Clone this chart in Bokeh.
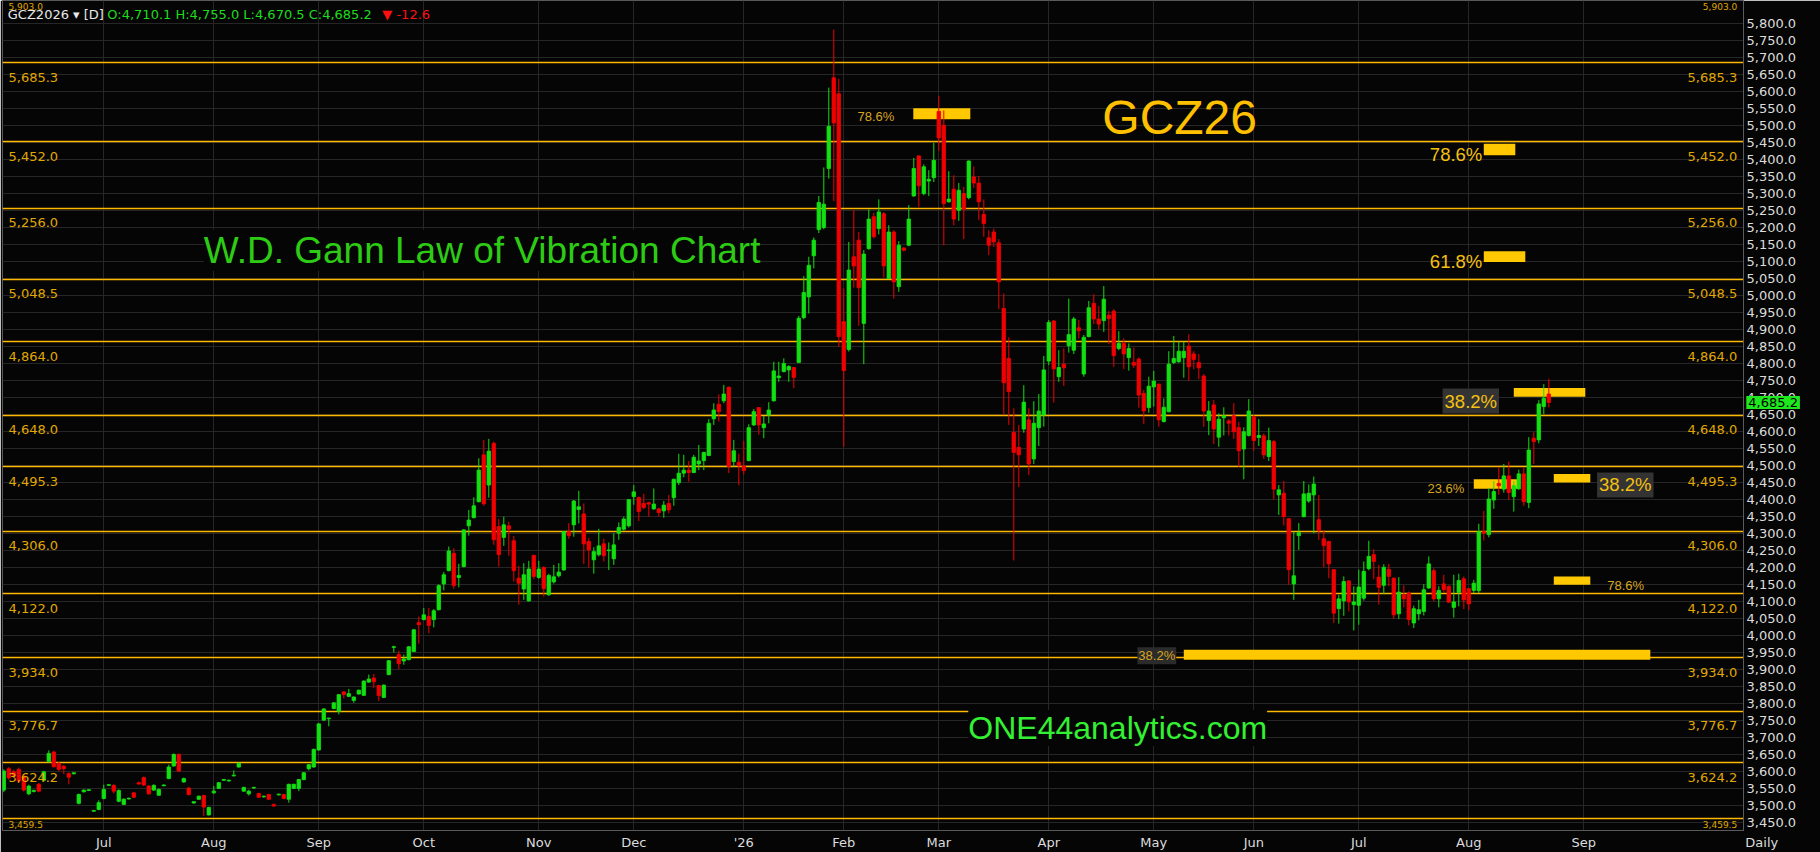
from bokeh.plotting import figure
from bokeh.models import Range1d, FixedTicker, NumeralTickFormatter, Label
from bokeh.embed import file_html
from bokeh.resources import INLINE
from bokeh.core.properties import value

# ---------------- data (daily bars, index = trading day) ----------------
opens = [
    3544, 3607, 3598, 3605, 3585, 3533, 3540, 3561, 3573, 3628,
    3656, 3623, 3614, 3593, 3592, 3505, 3539, 3543, 3482, 3487,
    3519, 3558, 3558, 3511, 3502, 3518, 3536, 3566, 3581, 3556,
    3544, 3529, 3557, 3578, 3615, 3649, 3568, 3550, 3506, 3517,
    3528, 3471, 3536, 3549, 3573, 3571, 3586, 3612, 3541, 3533,
    3550, 3534, 3524, 3531, 3502, 3530, 3531, 3517, 3549, 3549,
    3575, 3607, 3612, 3662, 3750, 3754, 3784, 3776, 3833, 3820,
    3808, 3827, 3823, 3862, 3874, 3852, 3817, 3884, 3964, 3943,
    3924, 3928, 3952, 4037, 4046, 4055, 4046, 4075, 4151, 4190,
    4241, 4170, 4202, 4322, 4346, 4393, 4531, 4442, 4565, 4320,
    4288, 4322, 4278, 4168, 4136, 4101, 4235, 4170, 4199, 4119,
    4157, 4175, 4192, 4305, 4325, 4370, 4357, 4276, 4222, 4237,
    4269, 4249, 4225, 4300, 4312, 4322, 4408, 4405, 4388, 4390,
    4372, 4372, 4366, 4388, 4405, 4449, 4477, 4486, 4479, 4504,
    4514, 4529, 4637, 4680, 4690, 4730, 4511, 4509, 4498, 4514,
    4619, 4670, 4611, 4648, 4690, 4758, 4776, 4781, 4788, 4803,
    4935, 4996, 5117, 5194, 5200, 5374, 5641, 5594, 4923, 4841,
    5114, 5163, 4918, 5138, 5232, 5197, 5241, 5050, 5187, 5026,
    5140, 5148, 5293, 5411, 5300, 5337, 5347, 5542, 5501, 5276,
    5313, 5251, 5300, 5288, 5349, 5331, 5239, 5170, 5187, 5155,
    4962, 4815, 4597, 4553, 4607, 4634, 4519, 4611, 4648, 4807,
    4925, 4761, 4798, 4852, 4839, 4905, 4769, 4879, 4977, 4931,
    4926, 4942, 4954, 4844, 4859, 4817, 4803, 4813, 4712, 4670,
    4731, 4739, 4629, 4658, 4803, 4805, 4817, 4851, 4828, 4803,
    4763, 4632, 4678, 4583, 4640, 4631, 4646, 4611, 4548, 4588,
    4643, 4582, 4587, 4526, 4570, 4413, 4418, 4343, 4151, 4293,
    4349, 4395, 4413, 4340, 4284, 4276, 4193, 4078, 4101, 4160,
    4090, 4088, 4109, 4196, 4237, 4171, 4147, 4194, 4168, 4063,
    4119, 4124, 4036, 4063, 4070, 4139, 4190, 4107, 4151, 4144,
    4082, 4126, 4166, 4137, 4132, 4131, 4305, 4296, 4398, 4447,
    4430, 4469, 4408, 4431, 4475, 4391, 4580, 4575, 4673, 4710.1,
]
highs = [
    3605, 3612, 3604, 3610, 3590, 3560, 3546, 3565, 3601, 3661,
    3660, 3627, 3618, 3596, 3597, 3534, 3546, 3547, 3486, 3514,
    3560, 3562, 3561, 3546, 3520, 3522, 3539, 3569, 3584, 3559,
    3561, 3549, 3561, 3619, 3652, 3652, 3581, 3553, 3512, 3528,
    3531, 3495, 3556, 3568, 3577, 3575, 3602, 3625, 3554, 3545,
    3554, 3536, 3528, 3533, 3504, 3534, 3533, 3563, 3563, 3577,
    3597, 3621, 3666, 3741, 3785, 3757, 3803, 3827, 3836, 3842,
    3820, 3840, 3867, 3884, 3886, 3854, 3855, 3927, 3969, 3954,
    3943, 3968, 4018, 4055, 4080, 4080, 4077, 4150, 4186, 4261,
    4256, 4210, 4312, 4369, 4406, 4521, 4575, 4578, 4570, 4342,
    4349, 4334, 4292, 4204, 4212, 4219, 4237, 4219, 4203, 4181,
    4207, 4212, 4307, 4330, 4398, 4425, 4388, 4286, 4259, 4313,
    4284, 4273, 4300, 4332, 4349, 4401, 4442, 4408, 4416, 4393,
    4432, 4375, 4395, 4413, 4461, 4534, 4531, 4513, 4531, 4560,
    4540, 4636, 4683, 4709, 4737, 4732, 4575, 4534, 4572, 4621,
    4666, 4672, 4646, 4686, 4805, 4805, 4815, 4795, 4790, 4940,
    5057, 5114, 5171, 5293, 5377, 5612, 5783, 5638, 5021, 5158,
    5251, 5187, 5134, 5254, 5244, 5283, 5246, 5207, 5192, 5160,
    5142, 5266, 5405, 5413, 5386, 5369, 5449, 5587, 5545, 5366,
    5354, 5331, 5320, 5398, 5380, 5352, 5283, 5192, 5197, 5166,
    5006, 4877, 4668, 4619, 4736, 4668, 4689, 4710, 4822, 4928,
    4928, 4839, 4844, 4991, 4937, 4928, 4884, 4984, 5004, 4969,
    5028, 4954, 4960, 4895, 4874, 4859, 4847, 4818, 4722, 4761,
    4778, 4741, 4697, 4836, 4881, 4864, 4864, 4886, 4836, 4828,
    4769, 4689, 4692, 4653, 4671, 4636, 4683, 4627, 4612, 4695,
    4648, 4636, 4594, 4611, 4575, 4442, 4454, 4345, 4305, 4330,
    4454, 4444, 4467, 4413, 4310, 4278, 4195, 4119, 4173, 4162,
    4144, 4193, 4217, 4278, 4253, 4207, 4209, 4210, 4170, 4171,
    4147, 4129, 4087, 4104, 4150, 4232, 4197, 4144, 4178, 4147,
    4178, 4181, 4173, 4139, 4163, 4328, 4366, 4433, 4454, 4494,
    4504, 4511, 4454, 4487, 4494, 4583, 4599, 4692, 4739, 4755.0,
]
lows = [
    3538, 3575, 3580, 3565, 3540, 3529, 3537, 3538, 3570, 3625,
    3610, 3600, 3591, 3561, 3590, 3502, 3537, 3541, 3480, 3485,
    3517, 3556, 3534, 3508, 3500, 3516, 3521, 3560, 3556, 3530,
    3542, 3527, 3555, 3576, 3613, 3597, 3566, 3528, 3504, 3515,
    3468, 3469, 3533, 3547, 3571, 3569, 3584, 3610, 3539, 3528,
    3548, 3521, 3522, 3515, 3495, 3528, 3517, 3507, 3547, 3541,
    3573, 3602, 3610, 3660, 3748, 3732, 3782, 3767, 3814, 3818,
    3801, 3825, 3821, 3860, 3845, 3806, 3815, 3882, 3949, 3900,
    3913, 3926, 3950, 3975, 4044, 4006, 4023, 4073, 4132, 4188,
    4137, 4141, 4200, 4293, 4344, 4391, 4381, 4405, 4266, 4202,
    4263, 4234, 4158, 4090, 4104, 4099, 4165, 4166, 4114, 4116,
    4152, 4170, 4190, 4284, 4290, 4329, 4210, 4199, 4181, 4232,
    4217, 4192, 4207, 4281, 4308, 4317, 4384, 4336, 4371, 4349,
    4369, 4349, 4346, 4359, 4381, 4442, 4465, 4452, 4477, 4486,
    4486, 4527, 4619, 4629, 4683, 4477, 4496, 4441, 4474, 4512,
    4616, 4590, 4580, 4624, 4688, 4746, 4774, 4746, 4727, 4801,
    4930, 4947, 5080, 5184, 5195, 5344, 5278, 4849, 4555, 4835,
    5023, 4911, 4798, 5135, 5168, 5180, 5053, 5048, 4991, 5011,
    5130, 5145, 5291, 5261, 5295, 5293, 5334, 5426, 5148, 5273,
    5207, 5220, 5166, 5283, 5317, 5222, 5173, 5119, 5143, 4960,
    4648, 4619, 4220, 4436, 4596, 4472, 4504, 4557, 4614, 4795,
    4685, 4746, 4734, 4832, 4828, 4874, 4761, 4877, 4916, 4900,
    4893, 4857, 4790, 4839, 4784, 4779, 4787, 4670, 4622, 4655,
    4673, 4614, 4626, 4656, 4798, 4802, 4758, 4748, 4783, 4754,
    4614, 4589, 4563, 4555, 4588, 4588, 4578, 4496, 4459, 4585,
    4543, 4557, 4519, 4513, 4400, 4354, 4323, 4149, 4104, 4251,
    4347, 4390, 4300, 4281, 4200, 4168, 4036, 4034, 4057, 4070,
    4014, 4031, 4102, 4191, 4165, 4090, 4121, 4144, 4048, 4048,
    4082, 4029, 4021, 4044, 4058, 4136, 4100, 4082, 4126, 4095,
    4052, 4085, 4077, 4073, 4124, 4124, 4279, 4288, 4372, 4413,
    4420, 4398, 4364, 4428, 4381, 4374, 4504, 4565, 4651, 4670.5,
]
closes = [
    3600, 3580, 3588, 3571, 3544, 3556, 3543, 3541, 3598, 3652,
    3613, 3605, 3607, 3582, 3595, 3531, 3544, 3545, 3484, 3507,
    3546, 3560, 3541, 3543, 3517, 3520, 3523, 3562, 3559, 3533,
    3558, 3546, 3559, 3612, 3649, 3600, 3578, 3531, 3510, 3526,
    3494, 3493, 3541, 3566, 3575, 3573, 3588, 3623, 3552, 3541,
    3552, 3523, 3526, 3517, 3497, 3532, 3519, 3561, 3561, 3575,
    3595, 3619, 3664, 3739, 3783, 3756, 3801, 3825, 3825, 3828,
    3818, 3838, 3865, 3871, 3863, 3822, 3853, 3925, 3966, 3916,
    3930, 3966, 4016, 4031, 4060, 4029, 4072, 4146, 4178, 4248,
    4146, 4176, 4310, 4339, 4381, 4486, 4387, 4542, 4281, 4237,
    4325, 4312, 4190, 4153, 4178, 4195, 4173, 4195, 4137, 4176,
    4172, 4186, 4305, 4293, 4395, 4378, 4269, 4251, 4246, 4263,
    4234, 4251, 4266, 4317, 4342, 4399, 4422, 4364, 4376, 4386,
    4386, 4361, 4383, 4369, 4459, 4477, 4486, 4479, 4524, 4513,
    4538, 4624, 4663, 4658, 4710, 4497, 4543, 4499, 4485, 4611,
    4658, 4619, 4622, 4663, 4778, 4763, 4800, 4791, 4759, 4933,
    5009, 5089, 5163, 5274, 5269, 5498, 5508, 4879, 4779, 5075,
    5087, 5023, 5122, 5225, 5173, 5246, 5087, 5187, 5040, 5148,
    5133, 5225, 5374, 5323, 5379, 5342, 5398, 5464, 5271, 5284,
    5225, 5310, 5254, 5396, 5331, 5276, 5212, 5148, 5158, 5040,
    4743, 4717, 4538, 4531, 4686, 4504, 4624, 4660, 4781, 4921,
    4784, 4788, 4787, 4885, 4931, 4896, 4877, 4964, 4931, 4916,
    4989, 4932, 4823, 4859, 4828, 4844, 4795, 4707, 4660, 4733,
    4748, 4634, 4671, 4798, 4815, 4836, 4836, 4790, 4812, 4787,
    4660, 4660, 4607, 4636, 4646, 4624, 4599, 4543, 4599, 4660,
    4573, 4588, 4531, 4573, 4430, 4428, 4349, 4193, 4175, 4302,
    4416, 4418, 4445, 4308, 4264, 4210, 4065, 4107, 4158, 4098,
    4098, 4142, 4188, 4232, 4217, 4141, 4200, 4173, 4060, 4127,
    4107, 4046, 4078, 4075, 4134, 4210, 4107, 4132, 4134, 4097,
    4098, 4161, 4104, 4092, 4153, 4305, 4300, 4401, 4423, 4440,
    4469, 4420, 4440, 4475, 4393, 4545, 4570, 4681, 4697.8, 4685.2,
]

# Gann "law of vibration" levels
levels = [5903.0, 5685.3, 5452.0, 5256.0, 5048.5, 4864.0, 4648.0, 4495.3,
          4306.0, 4122.0, 3934.0, 3776.7, 3624.2, 3459.5]

# month starts (trading-day index) and their tick labels
month_pos = [20, 42, 63, 84, 107, 126, 148, 168, 187, 209, 230, 250, 271, 293, 316]
month_labels = ["Jul", "Aug", "Sep", "Oct", "Nov", "Dec", "'26", "Feb", "Mar",
                "Apr", "May", "Jun", "Jul", "Aug", "Sep"]

price_ticks = list(range(3450, 5801, 50))

# Fibonacci zones: start/end bar index, bottom/top price
fib_left = [181.9, 296.0, 296.0, 302.0, 294.0, 310.0, 310.0, 236.0]
fib_right = [193.3, 302.3, 304.3, 316.3, 303.0, 317.3, 317.3, 329.3]
fib_bottom = [5518.6, 5412.7, 5099.0, 4702.0, 4431.0, 4449.7, 4148.4, 3928.0]
fib_top = [5551.0, 5447.1, 5130.4, 4727.6, 4459.2, 4474.8, 4172.8, 3957.3]

last_open, last_high, last_low, last_close, last_change = 4710.1, 4755.0, 4670.5, 4685.2, -12.6

# ---------------- figure ----------------
n = min(len(opens), len(highs), len(lows), len(closes))
idx = list(range(n))
GREEN = "#12e012"
RED = "#f00000"
colors = [GREEN if closes[i] >= opens[i] else RED for i in idx]
body_top = [max(opens[i], closes[i]) for i in idx]
body_bot = [min(opens[i], closes[i]) for i in idx]

p = figure(width=1820, height=852,
           x_range=Range1d(-0.26, 347.94), y_range=Range1d(3425.1, 5868.5),
           y_axis_location="right", output_backend="svg", toolbar_location=None,
           background_fill_color="#050505", border_fill_color="#050505",
           min_border_left=2, min_border_top=0, min_border_right=77, min_border_bottom=21,
           outline_line_color="#5a5a5a")

p.yaxis.ticker = FixedTicker(ticks=price_ticks)
p.yaxis.formatter = NumeralTickFormatter(format="0,0.0")
p.xaxis.ticker = FixedTicker(ticks=month_pos)
p.xaxis.major_label_overrides = {pos: lab for pos, lab in zip(month_pos, month_labels)}
for ax in (p.xaxis[0], p.yaxis[0]):
    ax.axis_line_color = "#5a5a5a"
    ax.major_tick_line_color = None
    ax.minor_tick_line_color = None
    ax.major_tick_out = 0
    ax.major_tick_in = 0
    ax.minor_tick_out = 0
    ax.minor_tick_in = 0
    ax.major_label_text_color = "#dcdcdc"
    ax.major_label_text_font = "DejaVu Sans"
    ax.major_label_text_font_size = "13px"
p.yaxis.major_label_standoff = 3
p.xaxis.major_label_standoff = 4
p.grid.grid_line_color = "#262626"
p.grid.grid_line_width = 1

# Gann levels
p.hspan(y=levels, line_color="#ffb800", line_width=1.3)

# Fibonacci zones
p.quad(left=fib_left, right=fib_right, bottom=fib_bottom, top=fib_top,
       fill_color="#ffc800", line_color=None)

# candles
p.segment(x0=idx, y0=highs[:n], x1=idx, y1=lows[:n], line_color=colors, line_width=1)
p.vbar(x=idx, width=0.7, top=body_top, bottom=body_bot,
       fill_color=colors, line_color=colors, line_width=0.8)

# level labels (below each line, left and right); labels of levels that sit at
# the very edge of the price window are kept inside it in a smaller size
px_per_unit = 0.3401
off = 14.4 / px_per_unit
lab_hi, lab_lo = 5850.8, 3442.7
lab_y = [lv - off for lv in levels]
inner = [i for i, y in enumerate(lab_y) if lab_lo <= y <= lab_hi]
edge = [i for i, y in enumerate(lab_y) if not (lab_lo <= y <= lab_hi)]
for ids, size in ((inner, "13px"), (edge, "9px")):
    ys = [min(max(lab_y[i], lab_lo), lab_hi) for i in ids]
    txt = [f"{levels[i]:,.1f}" for i in ids]
    p.text(x=[0.94] * len(ids), y=ys, text=txt,
           text_font=value("DejaVu Sans"), text_font_size=value(size),
           text_color="#e0a800", text_baseline="middle", text_align="left")
    p.text(x=[346.68] * len(ids), y=ys, text=txt,
           text_font=value("DejaVu Sans"), text_font_size=value(size),
           text_color="#e0a800", text_baseline="middle", text_align="right")


def add_label(x, y, text, **kw):
    p.add_layout(Label(x=x, y=y, text=text, **kw))


# header
add_label(0.8, 5827.3, "GCZ2026 \u25be [D]", text_font="DejaVu Sans", text_font_size="13px",
          text_color="#e8e8e8", text_baseline="middle")
add_label(20.7, 5827.3,
          f"O:{last_open:,.1f} H:{last_high:,.1f} L:{last_low:,.1f} C:{last_close:,.1f}",
          text_font="DejaVu Sans", text_font_size="13px", text_color="#1edc1e",
          text_baseline="middle")
add_label(75.7, 5827.3, f"\u25bc {last_change:.1f}", text_font="DejaVu Sans",
          text_font_size="13px", text_color="#ff1010", text_baseline="middle")

# titles
add_label(219.7, 5523.6, "GCZ26", text_font="Liberation Sans", text_font_size="48px",
          text_color="#ffc000", text_baseline="alphabetic")
add_label(40.0, 5133.4, "W.D. Gann Law of Vibration Chart", text_font="Liberation Sans",
          text_font_size="37px", text_color="#2dcc14", text_baseline="alphabetic",
          background_fill_color="#050505")
add_label(192.9, 3727.1, "ONE44analytics.com", text_font="Liberation Sans",
          text_font_size="32px", text_color="#33f033", text_baseline="alphabetic",
          background_fill_color="#050505")

# fib labels
SMALL = dict(text_font="Liberation Sans", text_font_size="13px", text_color="#d8a521",
             text_baseline="middle")
BIG = dict(text_font="Liberation Sans", text_font_size="18.5px", text_color="#f5c010",
           text_baseline="middle")
add_label(178.1, 5527.4, "78.6%", text_align="right", **SMALL)
add_label(295.7, 5414.8, "78.6%", text_align="right", **BIG)
add_label(295.7, 5099.0, "61.8%", text_align="right", **BIG)
add_label(293.4, 4689.4, "38.2%", text_align="center", background_fill_color="#333333",
          padding=2, **BIG)
add_label(292.1, 4432.1, "23.6%", text_align="right", **SMALL)
add_label(324.3, 4442.4, "38.2%", text_align="center", background_fill_color="#333333",
          padding=2, **BIG)
add_label(320.7, 4145.5, "78.6%", text_align="left", **SMALL)
add_label(230.6, 3939.6, "38.2%", text_align="center", background_fill_color="#2b2b2b",
          padding=1, **SMALL)

# last price tag on the price axis and the interval caption under it
# (overlay level so that they are drawn over the axis panels)
p.text(x=[348.5], y=[last_close], text=[f"{last_close:,.1f}"],
       text_font=value("DejaVu Sans"), text_font_size=value("13px"),
       text_color="#000000", text_baseline="middle", text_align="left",
       background_fill_color="#1ee81e", padding=2, level="overlay")
p.text(x=[348.3], y=[3389.8], text=["Daily"],
       text_font=value("DejaVu Sans"), text_font_size=value("13px"),
       text_color="#dcdcdc", text_baseline="middle", text_align="left", level="overlay")

open("out.html", "w").write(file_html(p, INLINE))
